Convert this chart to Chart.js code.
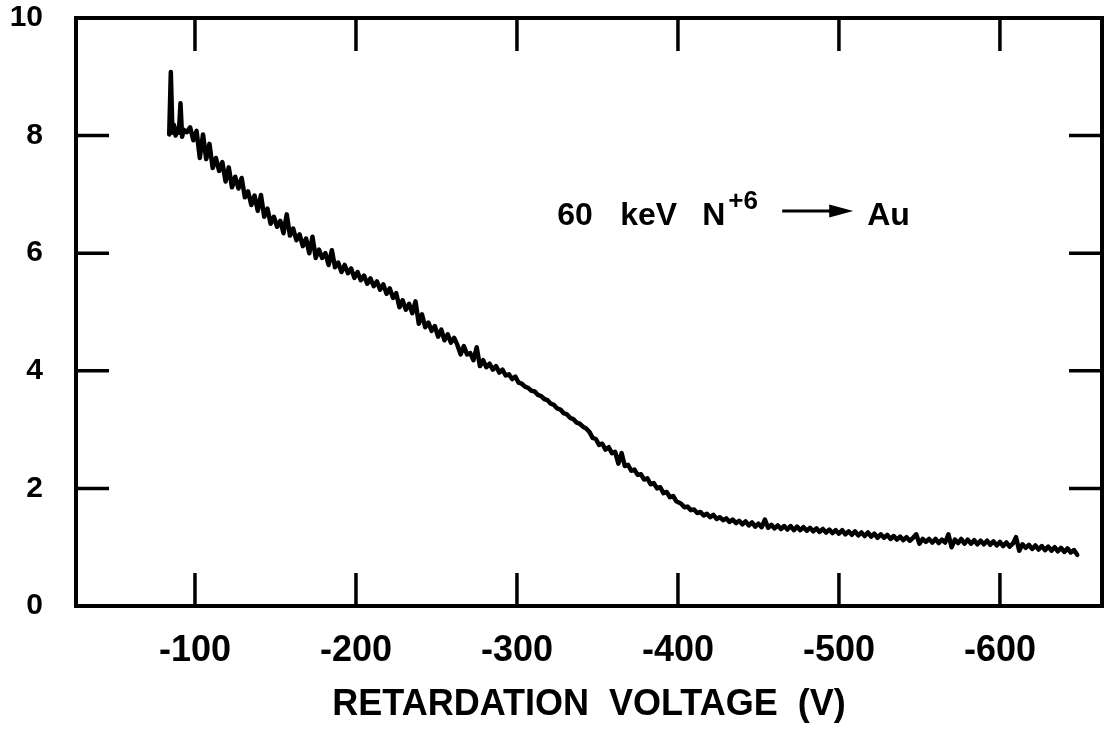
<!DOCTYPE html>
<html>
<head>
<meta charset="utf-8">
<script src="https://cdn.jsdelivr.net/npm/chart.js@4/dist/chart.umd.min.js"></script>
<style>
  html, body { margin: 0; padding: 0; background: #fff; }
  #c { display: block; }
</style>
</head>
<body>
<canvas id="c" width="1110" height="734"></canvas>
<script>
// retardation voltage (V) of each sample
const voltages = [
  -84, -85, -86, -87, -88, -89, -90, -91, -92, -93, -95, -97,
  -99, -101, -103, -105, -107, -109, -111, -113, -115, -117,
  -119, -121, -123, -125, -127, -129, -131, -133, -135, -137,
  -139, -141, -143, -145, -147, -149, -151, -153, -155, -157,
  -159, -161, -163, -165, -167, -169, -171, -173, -175, -177,
  -179, -181, -183, -185, -187, -189, -191, -193, -195, -197,
  -199, -201, -203, -205, -207, -209, -211, -213, -215, -217,
  -219, -221, -223, -225, -227, -229, -231, -233, -235, -237,
  -239, -241, -243, -245, -247, -249, -251, -253, -255, -257,
  -259, -261, -263, -265, -267, -269, -271, -273, -275, -277,
  -279, -281, -283, -285, -287, -289, -291, -293, -295, -297,
  -299,
  -301, -303, -305, -307, -309, -311, -313, -315, -317, -319,
  -321, -323, -325, -327, -329, -331, -333, -335, -337, -339,
  -341, -343,
  -345, -347, -349, -351, -353, -355, -357, -359, -361, -363,
  -365, -367, -369, -371, -373, -375, -377, -379, -381, -383,
  -385, -387, -389, -391, -393, -395, -397, -399,
  -402, -404, -406, -408, -410, -412, -414, -416, -418, -420,
  -422, -424, -426, -428, -430, -432, -434, -436, -438, -440,
  -442, -444, -446, -448, -450, -452, -454, -456, -458, -460,
  -462, -464, -466, -468, -470, -472, -474, -476, -478, -480,
  -482, -484, -486, -488, -490, -492, -494, -496, -498, -500,
  -502, -504, -506, -508, -510, -512, -514, -516, -518, -520,
  -522, -524, -526, -528, -530, -532, -534, -536, -538, -540,
  -542, -544, -546, -548, -550, -552, -554, -556, -558, -560,
  -562, -564, -566, -568, -570, -572, -574, -576, -578, -580,
  -582, -584, -586, -588, -590, -592, -594, -596, -598, -600,
  -602, -604, -606, -608, -610, -612, -614, -616, -618, -620,
  -622, -624, -626, -628, -630, -632, -634, -636, -638, -640,
  -642, -644, -646, -648
];

// measured signal (arb. units), same order as voltages
const signal = [
  8.02, 9.08, 8.05, 8.18, 8.00, 8.12, 8.05, 8.55, 7.98, 8.10, 8.06, 8.14,
  7.92, 8.08, 7.62, 8.02, 7.60, 7.86, 7.45, 7.62, 7.40, 7.55,
  7.22, 7.46, 7.12, 7.30, 7.10, 7.28, 6.95, 7.05, 6.82, 6.98,
  6.72, 6.99, 6.62, 6.76, 6.50, 6.62, 6.45, 6.55, 6.34, 6.66,
  6.30, 6.42, 6.22, 6.32, 6.12, 6.25, 6.00, 6.28, 5.92, 6.06,
  5.92, 6.00, 5.80, 6.05, 5.76, 5.84, 5.68, 5.80, 5.66, 5.74,
  5.58, 5.68, 5.54, 5.62, 5.48, 5.57, 5.44, 5.52, 5.38, 5.47,
  5.31, 5.40, 5.24, 5.32, 5.08, 5.20, 5.04, 5.14, 4.98, 5.18,
  4.80, 4.96, 4.74, 4.82, 4.68, 4.76, 4.58, 4.70, 4.52, 4.62,
  4.48, 4.56, 4.44, 4.28, 4.42, 4.28, 4.30, 4.18, 4.40, 4.08,
  4.18, 4.06, 4.12, 4.02, 4.08, 3.97, 4.02, 3.92, 3.94, 3.86,
  3.90,
  3.80, 3.78, 3.73, 3.71, 3.66, 3.65, 3.59, 3.57, 3.52, 3.50,
  3.44, 3.42, 3.36, 3.34, 3.28, 3.26, 3.20, 3.18, 3.12, 3.10,
  3.05, 3.02,
  2.96, 2.86, 2.84, 2.74, 2.76, 2.66, 2.70, 2.60, 2.62, 2.42,
  2.60, 2.38, 2.40, 2.30, 2.32, 2.23, 2.24, 2.15, 2.17, 2.07,
  2.09, 2.00, 2.02, 1.92, 1.94, 1.85, 1.87, 1.78,
  1.74, 1.68, 1.69, 1.63, 1.64, 1.58, 1.60, 1.54, 1.57, 1.51,
  1.55, 1.48, 1.51, 1.46, 1.49, 1.43, 1.47, 1.41, 1.45, 1.39,
  1.44, 1.37, 1.42, 1.35, 1.40, 1.34, 1.47, 1.33, 1.38, 1.32,
  1.37, 1.31, 1.36, 1.30, 1.36, 1.29, 1.35, 1.29, 1.34, 1.28,
  1.33, 1.27, 1.32, 1.26, 1.31, 1.25, 1.30, 1.24, 1.29, 1.23,
  1.29, 1.22, 1.27, 1.21, 1.27, 1.20, 1.25, 1.19, 1.25, 1.18,
  1.23, 1.16, 1.22, 1.16, 1.21, 1.14, 1.19, 1.13, 1.18, 1.12,
  1.17, 1.11, 1.16, 1.22, 1.06, 1.14, 1.09, 1.14, 1.08, 1.14,
  1.07, 1.13, 1.08, 1.22, 1.00, 1.13, 1.07, 1.14, 1.06, 1.13,
  1.06, 1.12, 1.05, 1.11, 1.05, 1.11, 1.04, 1.10, 1.03, 1.09,
  1.02, 1.08, 1.01, 1.06, 1.17, 0.94, 1.05, 0.99, 1.04, 0.97,
  1.03, 0.96, 1.02, 0.95, 1.01, 0.94, 1.00, 0.93, 0.99, 0.92,
  0.98, 0.91, 0.95, 0.87
];

const xTicks = [-100, -200, -300, -400, -500, -600];
const yTicks = [0, 2, 4, 6, 8, 10];

const FONT = "'Liberation Sans', Arial, sans-serif";
const TICK_LEN = 33;

// boxed frame with inward ticks on all four sides
const frameTicks = {
  id: 'frameTicks',
  afterDatasetsDraw(chart) {
    const { ctx, chartArea: a, scales: { x, y } } = chart;
    ctx.save();
    ctx.strokeStyle = '#000';
    ctx.lineWidth = 3.5;
    ctx.beginPath();
    xTicks.forEach(v => {
      const px = x.getPixelForValue(v);
      ctx.moveTo(px, a.bottom); ctx.lineTo(px, a.bottom - TICK_LEN);
      ctx.moveTo(px, a.top); ctx.lineTo(px, a.top + TICK_LEN);
    });
    yTicks.slice(1, -1).forEach(v => {
      const py = y.getPixelForValue(v);
      ctx.moveTo(a.left, py); ctx.lineTo(a.left + TICK_LEN, py);
      ctx.moveTo(a.right, py); ctx.lineTo(a.right - TICK_LEN, py);
    });
    ctx.stroke();
    ctx.lineWidth = 4;
    ctx.strokeRect(a.left, a.top, a.right - a.left, a.bottom - a.top);
    ctx.restore();
  }
};

// "60 keV N+6 -> Au" label
const reaction = {
  id: 'reaction',
  afterDraw(chart) {
    const { ctx, scales: { x, y } } = chart;
    const x0 = x.getPixelForValue(-325);
    const base = y.getPixelForValue(6.48);
    ctx.save();
    ctx.fillStyle = '#000';
    ctx.textBaseline = 'alphabetic';
    ctx.font = `bold 32px ${FONT}`;
    ctx.fillText('60', x0, base);
    ctx.fillText('keV', x0 + 63, base);
    ctx.fillText('N', x0 + 145, base);
    ctx.font = `bold 26px ${FONT}`;
    ctx.fillText('+6', x0 + 171, base - 16);
    ctx.font = `bold 32px ${FONT}`;
    ctx.fillText('Au', x0 + 310, base);
    // arrow
    const ay = base - 14;
    ctx.strokeStyle = '#000';
    ctx.lineWidth = 3;
    ctx.beginPath();
    ctx.moveTo(x0 + 225, ay);
    ctx.lineTo(x0 + 278, ay);
    ctx.stroke();
    ctx.beginPath();
    ctx.moveTo(x0 + 272, ay - 6.5);
    ctx.lineTo(x0 + 296, ay);
    ctx.lineTo(x0 + 272, ay + 6.5);
    ctx.closePath();
    ctx.fill();
    ctx.restore();
  }
};

const points = voltages.map((v, i) => ({ x: v, y: signal[i] }));

new Chart(document.getElementById('c'), {
  type: 'line',
  data: {
    datasets: [{
      data: points,
      borderColor: '#000',
      borderWidth: 4.5,
      pointRadius: 0,
      tension: 0,
      borderJoinStyle: 'round',
      borderCapStyle: 'round'
    }]
  },
  options: {
    responsive: false,
    animation: false,
    devicePixelRatio: 1,
    layout: { padding: { top: 18, right: 8, left: 0, bottom: 0 } },
    plugins: { legend: { display: false }, tooltip: { enabled: false } },
    scales: {
      x: {
        type: 'linear',
        reverse: true,
        min: -663.4,
        max: -26.1,
        afterBuildTicks: s => { s.ticks = xTicks.map(v => ({ value: v })); },
        afterFit: s => { s.height = 128; s.paddingLeft = 0; s.paddingRight = 0; },
        grid: { display: false, drawTicks: false },
        border: { display: false },
        ticks: {
          color: '#000',
          padding: 23,
          maxRotation: 0,
          font: { family: FONT, size: 36, weight: 'bold' },
          callback: v => String(v)
        },
        title: {
          display: true,
          text: 'RETARDATION  VOLTAGE  (V)',
          color: '#000',
          font: { family: FONT, size: 36, weight: 'bold' },
          padding: { top: 0, bottom: 7 }
        }
      },
      y: {
        min: 0,
        max: 10,
        afterBuildTicks: s => { s.ticks = yTicks.map(v => ({ value: v })); },
        afterFit: s => { s.width = 76; s.paddingTop = 0; s.paddingBottom = 0; },
        grid: { display: false, drawTicks: false },
        border: { display: false },
        ticks: {
          color: '#000',
          padding: 33,
          font: { family: FONT, size: 30, weight: 'bold' }
        }
      }
    }
  },
  plugins: [frameTicks, reaction]
});
</script>
</body>
</html>
